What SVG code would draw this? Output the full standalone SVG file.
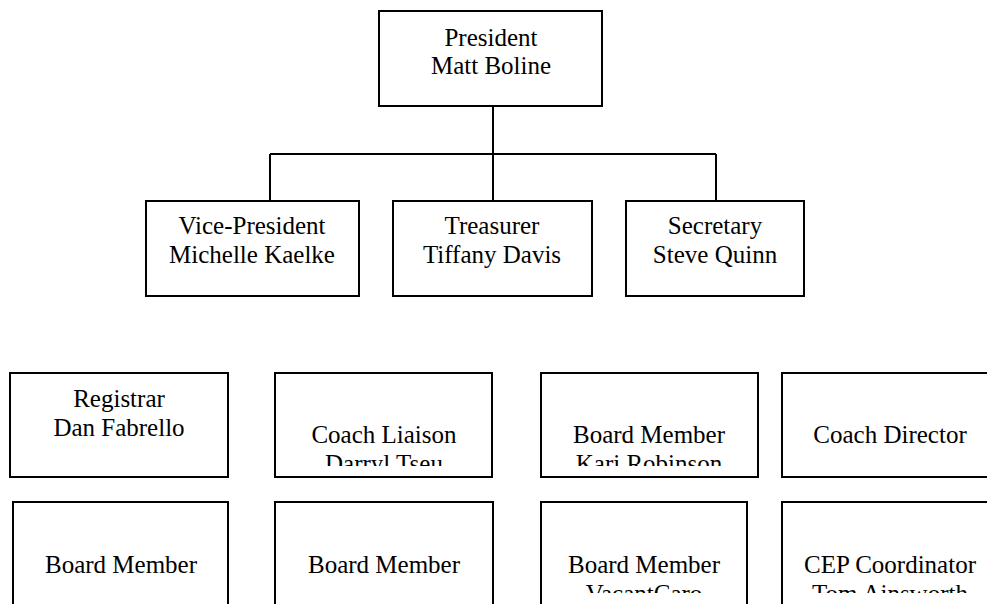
<svg xmlns="http://www.w3.org/2000/svg" width="987" height="604" viewBox="0 0 987 604">
<style>
.box{fill:#fff;stroke:#000;stroke-width:2}
.ln{fill:none;stroke:#000;stroke-width:2}
text{font-family:"Liberation Serif","Times New Roman",serif;font-size:25px;fill:#000;text-anchor:middle}
</style>
<defs>
<clipPath id="c1"><rect x="275" y="374" width="217" height="92"/></clipPath>
<clipPath id="c2"><rect x="541" y="374" width="217" height="92"/></clipPath>
<clipPath id="c3"><rect x="541" y="503" width="206" height="90"/></clipPath>
<clipPath id="c4"><rect x="782" y="503" width="205" height="90"/></clipPath>
</defs>
<rect width="987" height="604" fill="#fff"/>
<g id="connectors">
<path class="ln" d="M493 106V202M270 154H716M270 154V202M716 154V202"/>
</g>
<g id="president"><rect class="box" x="379" y="11" width="223" height="95"/><text x="491" y="46">President</text><text x="491" y="74">Matt Boline</text></g>
<g id="vice-president"><rect class="box" x="146" y="201" width="213" height="95"/><text x="252" y="234">Vice-President</text><text x="252" y="263">Michelle Kaelke</text></g>
<g id="treasurer"><rect class="box" x="393" y="201" width="199" height="95"/><text x="492" y="234">Treasurer</text><text x="492" y="263">Tiffany Davis</text></g>
<g id="secretary"><rect class="box" x="626" y="201" width="178" height="95"/><text x="715" y="234">Secretary</text><text x="715" y="263">Steve Quinn</text></g>
<g id="registrar"><rect class="box" x="10" y="373" width="218" height="104"/><text x="119" y="407">Registrar</text><text x="119" y="436">Dan Fabrello</text></g>
<g id="coach-liaison"><rect class="box" x="275" y="373" width="217" height="104"/><g clip-path="url(#c1)"><text x="384" y="443">Coach Liaison</text><text x="384" y="472">Darryl Tseu</text></g></g>
<g id="board-member-kari"><rect class="box" x="541" y="373" width="217" height="104"/><g clip-path="url(#c2)"><text x="649" y="443">Board Member</text><text x="649" y="472">Kari Robinson</text></g></g>
<g id="coach-director"><rect class="box" x="782" y="373" width="217" height="104"/><text x="890" y="443">Coach Director</text></g>
<g id="board-member-1"><rect class="box" x="13" y="502" width="215" height="104"/><text x="121" y="573">Board Member</text></g>
<g id="board-member-2"><rect class="box" x="275" y="502" width="218" height="104"/><text x="384" y="573">Board Member</text></g>
<g id="board-member-vacant"><rect class="box" x="541" y="502" width="206" height="104"/><g clip-path="url(#c3)"><text x="644" y="573">Board Member</text><text x="644" y="602">VacantCaro</text></g></g>
<g id="cep-coordinator"><rect class="box" x="782" y="502" width="217" height="104"/><g clip-path="url(#c4)"><text x="890" y="573">CEP Coordinator</text><text x="890" y="602">Tom Ainsworth</text></g></g>
</svg>
